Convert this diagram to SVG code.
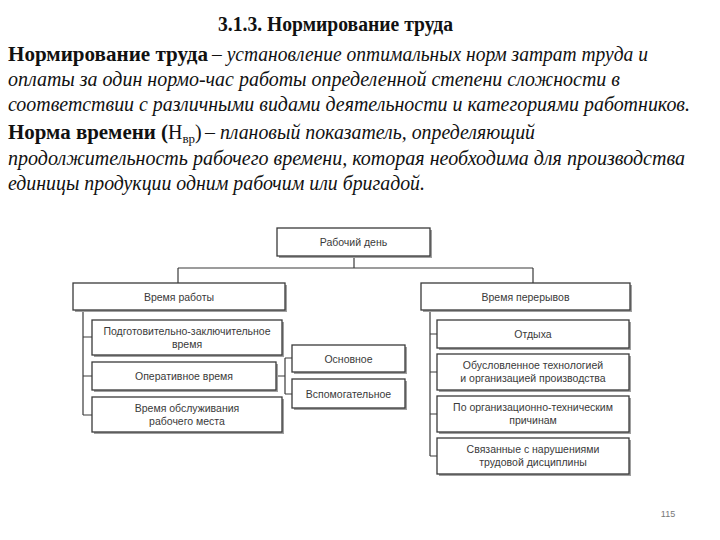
<svg xmlns="http://www.w3.org/2000/svg" width="720" height="540" viewBox="0 0 720 540">
<style>
.t{font-family:"Liberation Serif","Times New Roman",serif;font-size:20px;fill:#111}
.b{font-weight:bold}
.i{font-style:italic}
.bx{fill:#fff;stroke:#3a3a3a;stroke-width:1.3}
.sh{fill:#a0a0a0}
.lb{font-family:"Liberation Sans",Arial,sans-serif;font-size:10.5px;fill:#3a3a3a;text-anchor:middle}
.ln{fill:none;stroke:#3a3a3a;stroke-width:1.2}
</style>
<rect width="720" height="540" fill="#fff"/>
<text class="t b" x="218" y="31" textLength="235" lengthAdjust="spacingAndGlyphs">3.1.3. Нормирование труда</text>
<text class="t b" x="8" y="61" textLength="200" lengthAdjust="spacingAndGlyphs">Нормирование труда</text>
<text class="t i" x="212" y="61" textLength="436" lengthAdjust="spacingAndGlyphs">– установление оптимальных норм затрат труда и</text>
<text class="t i" x="8" y="86" textLength="612" lengthAdjust="spacingAndGlyphs">оплаты за один нормо-час работы определенной степени сложности в</text>
<text class="t i" x="8" y="111" textLength="682" lengthAdjust="spacingAndGlyphs">соответствии с различными видами деятельности и категориями работников.</text>
<text class="t b" x="8" y="139" textLength="160" lengthAdjust="spacingAndGlyphs">Норма времени (</text>
<text class="t" x="168" y="139">Н<tspan font-size="13" dy="4">вр</tspan><tspan dy="-4">)</tspan></text>
<text class="t i" x="205" y="139" textLength="330" lengthAdjust="spacingAndGlyphs">– плановый показатель, определяющий</text>
<text class="t i" x="8" y="165" textLength="677" lengthAdjust="spacingAndGlyphs">продолжительность рабочего времени, которая необходима для производства</text>
<text class="t i" x="8" y="190" textLength="417" lengthAdjust="spacingAndGlyphs">единицы продукции одним рабочим или бригадой.</text>

<g id="connectors">
<path class="ln" d="M354 256V268M178 268H533M178 268V283M533 268V283"/>
<path class="ln" d="M83 310V415M83 337H92M83 376H92M83 415H92"/>
<path class="ln" d="M276 376H285M285 358V394M285 358H292M285 394H292"/>
<path class="ln" d="M430 310V456M430 334H437M430 372H437M430 414H437M430 456H437"/>
</g>

<g id="n-day"><rect class="sh" x="279" y="230" width="153" height="28"/><rect class="bx" x="277" y="228" width="153" height="28"/><text class="lb" x="353.5" y="246">Рабочий день</text></g>
<g id="n-work"><rect class="sh" x="75" y="285" width="212" height="27"/><rect class="bx" x="73" y="283" width="212" height="27"/><text class="lb" x="179" y="300.5">Время работы</text></g>
<g id="n-break"><rect class="sh" x="423" y="285" width="209" height="27"/><rect class="bx" x="421" y="283" width="209" height="27"/><text class="lb" x="525.5" y="300.5">Время перерывов</text></g>

<g id="n-prep"><rect class="sh" x="94" y="322" width="190" height="35"/><rect class="bx" x="92" y="320" width="190" height="35"/><text class="lb" x="187" y="334.5">Подготовительно-заключительное</text><text class="lb" x="187" y="347.5">время</text></g>
<g id="n-oper"><rect class="sh" x="94" y="364" width="184" height="28"/><rect class="bx" x="92" y="362" width="184" height="28"/><text class="lb" x="184" y="380">Оперативное время</text></g>
<g id="n-serv"><rect class="sh" x="94" y="399" width="190" height="35"/><rect class="bx" x="92" y="397" width="190" height="35"/><text class="lb" x="187" y="411.5">Время обслуживания</text><text class="lb" x="187" y="424.5">рабочего места</text></g>

<g id="n-main"><rect class="sh" x="294" y="347" width="113" height="27"/><rect class="bx" x="292" y="345" width="113" height="27"/><text class="lb" x="348.5" y="362.5">Основное</text></g>
<g id="n-aux"><rect class="sh" x="294" y="381" width="113" height="29"/><rect class="bx" x="292" y="379" width="113" height="29"/><text class="lb" x="348.5" y="397.5">Вспомогательное</text></g>

<g id="n-rest"><rect class="sh" x="439" y="322" width="192" height="28"/><rect class="bx" x="437" y="320" width="192" height="28"/><text class="lb" x="533" y="338">Отдыха</text></g>
<g id="n-tech"><rect class="sh" x="439" y="356" width="192" height="36"/><rect class="bx" x="437" y="354" width="192" height="36"/><text class="lb" x="533" y="369">Обусловленное технологией</text><text class="lb" x="533" y="382">и организацией производства</text></g>
<g id="n-org"><rect class="sh" x="439" y="398" width="192" height="36"/><rect class="bx" x="437" y="396" width="192" height="36"/><text class="lb" x="533" y="411">По организационно-техническим</text><text class="lb" x="533" y="424">причинам</text></g>
<g id="n-disc"><rect class="sh" x="439" y="440" width="192" height="36"/><rect class="bx" x="437" y="438" width="192" height="36"/><text class="lb" x="533" y="453">Связанные с нарушениями</text><text class="lb" x="533" y="466">трудовой дисциплины</text></g>

<text x="668" y="517" font-family="Liberation Sans,Arial,sans-serif" font-size="9" fill="#777" text-anchor="middle">115</text>
</svg>
